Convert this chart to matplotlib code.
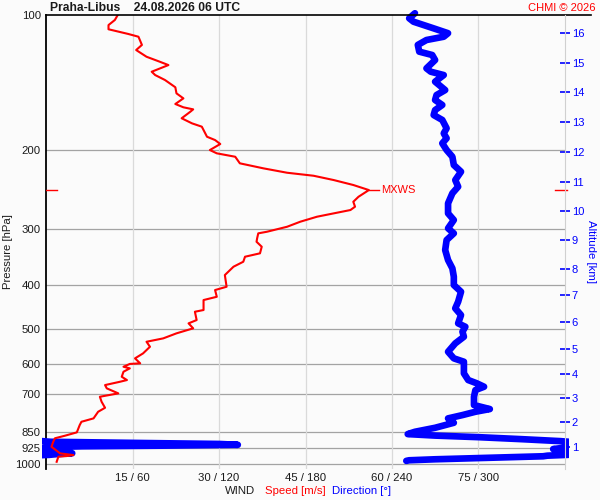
import numpy as np
import matplotlib
matplotlib.use('Agg')
import matplotlib.pyplot as plt
from matplotlib.transforms import Bbox, TransformedBbox
from matplotlib.ticker import NullLocator, FixedLocator

plt.rcParams['font.family'] = ['Liberation Sans', 'DejaVu Sans']

# ---------------- data ----------------
# wind speed profile (pressure hPa, speed m/s)
spd_p = [99.5, 102.6, 105.3, 107.6, 110.2, 111.8, 116.6, 119.7, 123.9, 127.1,
         129.3, 133.8, 136.1, 139.6, 144.9, 149.5, 153.4, 157.9, 160.6, 162.3,
         164.3, 169.9, 174.4, 177.4, 186.8, 190.0, 193.9, 200.0, 203.4, 207.0,
         214.1, 219.7, 224.7, 228.2, 233.3, 239.3, 245.6, 254.2, 260.8, 267.5,
         272.1, 276.8, 281.6, 288.9, 296.5, 304.2, 306.7, 314.7, 320.2, 328.5,
         339.8, 345.8, 354.8, 364.0, 379.9, 403.4, 410.3, 424.7, 431.9, 454.6,
         458.6, 478.6, 486.8, 499.4, 512.4, 525.8, 535.0, 548.9, 567.9, 582.6,
         597.7, 599.5, 608.2, 613.3, 624.0, 640.3, 651.2, 656.9, 668.2, 679.6,
         697.3, 709.5, 728.0, 750.8, 766.3, 792.8, 806.7, 820.5, 851.8, 866.8,
         878.0, 894.0, 917.2, 948.8, 957.1, 962.0, 965.0, 990.6]
spd_ms = [12.5, 11.9, 10.8, 10.8, 14.2, 16.0, 16.6, 15.6, 17.4, 19.7,
          21.2, 18.3, 18.9, 20.6, 22.4, 22.6, 23.8, 22.4, 23.8, 25.5,
          25.0, 23.5, 25.3, 27.0, 27.9, 29.3, 30.2, 28.4, 29.6, 32.8,
          33.6, 37.7, 41.8, 46.4, 49.9, 53.3, 56.0, 54.2, 53.3, 53.6,
          52.8, 49.9, 47.0, 44.1, 41.8, 38.3, 36.8, 36.6, 36.5, 37.4,
          37.1, 34.5, 34.2, 32.5, 31.0, 31.3, 29.3, 29.6, 27.3, 27.3,
          25.8, 26.1, 24.7, 25.5, 22.6, 20.3, 17.4, 18.0, 16.8, 15.4,
          16.3, 14.5, 13.4, 14.5, 13.4, 13.1, 14.0, 12.8, 10.2, 10.5,
          12.5, 9.3, 9.6, 10.2, 9.0, 8.2, 6.1, 5.8, 5.3, 3.2,
          1.5, 1.2, 0.9, 2.4, 4.7, 3.5, 2.1, 1.8]

# wind direction profile (pressure hPa, direction deg)
dir_p = [99.1, 101.7, 103.5, 107.1, 109.8, 111.8, 113.7, 116.6, 120.7, 122.8,
         126.0, 131.5, 133.8, 136.1, 140.8, 147.0, 150.8, 154.7, 158.7, 162.9,
         167.1, 171.4, 178.9, 183.6, 188.3, 193.2, 200.0, 207.0, 216.0, 223.5,
         233.3, 241.4, 249.7, 262.9, 276.8, 286.4, 298.9, 306.7, 317.4, 334.1,
         351.7, 367.1, 383.2, 399.9, 413.9, 435.7, 450.7, 466.5, 486.8, 495.4,
         508.2, 521.4, 539.5, 563.2, 582.6, 592.8, 629.2, 651.2, 662.3, 674.0,
         685.5, 709.5, 740.4, 755.8, 766.3, 779.5, 792.8, 810.9, 832.0, 849.2,
         859.4, 866.0, 873.0, 882.0, 891.0, 894.0, 899.0, 904.0, 908.0, 912.0,
         915.0, 918.0, 923.0, 928.0, 933.0, 938.0, 943.0, 948.0, 952.0, 956.0,
         958.0, 960.0, 963.0, 968.0, 973.0, 978.0, 983.0, 986.0]
dir_deg = [256, 252, 255, 269, 279, 276, 264, 258, 259, 268,
           270, 264, 267, 276, 270, 277, 271, 270, 275, 270,
           269, 275, 278, 276, 278, 275, 278, 282, 283, 288,
           284, 286, 282, 279, 279, 283, 279, 283, 278, 277,
           279, 282, 283, 283, 288, 286, 284, 288, 286, 291,
           289, 290, 284, 279, 283, 290, 290, 293, 299, 304,
           298, 297, 297, 308, 298, 289, 279, 283, 270, 256,
           251, 270, 300, 330, 357, 3, 60, 120, 133, 80,
           25, 5, 358, 352, 357, 3, 12, 18, 8, 2,
           355, 348, 345, 320, 295, 270, 252, 250]

# axis ticks
p_ticks = [100, 200, 300, 400, 500, 600, 700, 850, 925, 1000]
p_tick_labels = ['100', '200', '300', '400', '500', '600', '700', '850', '925', '1000']
x_ticks = [15, 30, 45, 60, 75]
x_tick_labels = ['15 / 60', '30 / 120', '45 / 180', '60 / 240', '75 / 300']
alt_km = ['1', '2', '3', '4', '5', '6', '7', '8', '9', '10', '11', '12', '13', '14', '15', '16']
alt_p = [917, 809, 714, 630.5, 554.6, 483.6, 421, 368.9, 317.4, 273.5,
         235.3, 201.7, 173.2, 148.7, 127.7, 109.9]

RED = '#ff0000'
BLUE = '#0000ff'
BG = '#fbfbfb'
TXT = '#1a1a1a'

# ---------------- figure ----------------
fig = plt.figure(figsize=(6, 5), dpi=100, facecolor=BG)
ax = fig.add_axes([46.3 / 600, 1 - 469 / 500, 518.4 / 600, 454 / 500])
ax.set_facecolor(BG)
ax.set_yscale('log')
ax.set_ylim(1028, 100)
ax.set_xlim(0, 90)

# grid
for p in p_ticks[1:]:
    ax.axhline(p, color='#a3a3a3', lw=0.9, zorder=1)
for x in x_ticks:
    ax.axvline(x, color='#dadada', lw=0.9, zorder=1)
ax.axhline(100, 0, 1.0507, color='black', lw=1.2, clip_on=False, zorder=5)

ax.yaxis.set_major_locator(FixedLocator(p_ticks))
ax.yaxis.set_minor_locator(NullLocator())
ax.set_yticklabels(p_tick_labels)
ax.set_xticks(x_ticks)
ax.set_xticklabels(x_tick_labels)
ax.tick_params(axis='both', length=0, labelsize=8.2, colors=TXT)
ax.tick_params(axis='y', pad=4)
ax.tick_params(axis='x', pad=3)

for s in ['top', 'bottom', 'right']:
    ax.spines[s].set_visible(False)
ax.spines['left'].set_color('black')
ax.spines['left'].set_linewidth(1.3)

# direction (wrapped at 0/360)
d = np.unwrap(np.array(dir_deg, dtype=float), period=360)
clip = TransformedBbox(Bbox.from_extents(-0.009, -0.01, 1.009, 1.01), ax.transAxes)
for k in (-360, 0, 360):
    ln, = ax.plot(np.array(d) / 4.0 + k / 4.0, dir_p, color=BLUE, lw=4.8,
                  solid_capstyle='round', solid_joinstyle='round', zorder=3)
    ln.set_clip_box(clip)

# speed
ax.plot(spd_ms, spd_p, color=RED, lw=1.5, zorder=4, solid_joinstyle='round')

# max wind
i_mx = int(np.argmax(spd_ms))
s_mx, p_mx = spd_ms[i_mx], spd_p[i_mx]
ax.plot([s_mx, s_mx + 1.7], [p_mx, p_mx], color=RED, lw=1.0, zorder=4)
ax.text(s_mx + 2.2, p_mx, 'MXWS', color=RED, fontsize=8, va='center', ha='left')
ax.axhline(p_mx, 0, 0.021, color=RED, lw=1.0, zorder=5)
ax.axhline(p_mx, 0.981, 1.005, color=RED, lw=1.0, zorder=5, clip_on=False)

# altitude axis
ax2 = ax.twinx()
ax2.set_yscale('log')
ax2.set_ylim(ax.get_ylim())
ax2.yaxis.set_major_locator(FixedLocator(alt_p))
ax2.yaxis.set_minor_locator(NullLocator())
ax2.set_yticklabels(alt_km)
ax2.tick_params(axis='y', colors=BLUE, direction='inout', length=7, width=1.2,
                pad=1.5, labelsize=8)
for s in ['top', 'bottom', 'left']:
    ax2.spines[s].set_visible(False)
ax2.spines['right'].set_color('#d0d0d0')
ax2.spines['right'].set_linewidth(0.8)

# texts
fig.text(50 / 600, 1 - 8 / 500, 'Praha-Libus    24.08.2026 06 UTC', fontsize=8.7,
         fontweight='bold', va='center', ha='left', color=TXT)
fig.text(596 / 600, 1 - 8 / 500, 'CHMI © 2026', fontsize=8, color=RED,
         va='center', ha='right')
fig.text(8 / 600, 1 - 252 / 500, 'Pressure [hPa]', rotation=90, fontsize=8.2,
         va='center', ha='center', color=TXT)
fig.text(591 / 600, 1 - 252 / 500, 'Altitude [km]', rotation=270, fontsize=8.2,
         va='center', ha='center', color=BLUE)
fig.text(225 / 600, 1 - 491 / 500, 'WIND', fontsize=8.2, va='center', ha='left', color=TXT)
fig.text(265 / 600, 1 - 491 / 500, 'Speed [m/s]', fontsize=8.2, va='center', ha='left', color=RED)
fig.text(332 / 600, 1 - 491 / 500, 'Direction [°]', fontsize=8.2, va='center', ha='left', color=BLUE)

fig.savefig('out.png', dpi=100, facecolor=BG)
